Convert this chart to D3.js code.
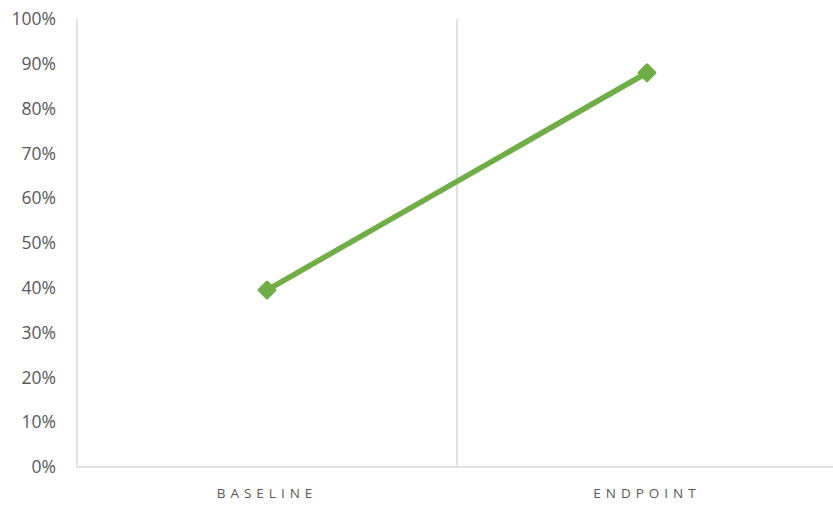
<!DOCTYPE html>
<html>
<head>
<meta charset="utf-8">
<script src="https://cdn.jsdelivr.net/npm/d3@7"></script>
<style>
  body { margin: 0; background: #fff; }
  text { font-family: "Open Sans", "Liberation Sans", sans-serif; fill: #595959; }
</style>
</head>
<body>
<div id="chart"></div>
<script>
// Line chart: Baseline vs Endpoint

var categories = ["BASELINE", "ENDPOINT"];
var values = [0.395, 0.88];
var yTicks = [0, 0.1, 0.2, 0.3, 0.4, 0.5, 0.6, 0.7, 0.8, 0.9, 1.0];

var svgWidth = 833;
var svgHeight = 505;

var margin = { top: 19, right: -4, bottom: 38, left: 77 };
var width = svgWidth - margin.left - margin.right;
var height = svgHeight - margin.top - margin.bottom;

var svg = d3.select("#chart")
  .append("svg")
  .attr("width", svgWidth)
  .attr("height", svgHeight);

var chartGroup = svg.append("g")
  .attr("transform", `translate(${margin.left}, ${margin.top})`);

var xScale = d3.scaleBand()
  .domain(categories)
  .range([0, width]);

var yScale = d3.scaleLinear()
  .domain([0, 1])
  .range([height, 0]);

// y axis labels
var leftAxis = d3.axisLeft(yScale)
  .tickValues(yTicks)
  .tickFormat(d3.format(".0%"))
  .tickSize(0)
  .tickPadding(21);

var yAxis = chartGroup.append("g").call(leftAxis);
yAxis.select(".domain").remove();
yAxis.selectAll("text")
  .style("font-size", "17.5px")
  .attr("fill", "#595959");

// axis lines
chartGroup.append("line")
  .attr("x1", 0).attr("x2", 0)
  .attr("y1", 0).attr("y2", height)
  .attr("stroke", "#d9d9d9").attr("stroke-width", 1.5);

chartGroup.append("line")
  .attr("x1", 0).attr("x2", width)
  .attr("y1", height).attr("y2", height)
  .attr("stroke", "#d9d9d9").attr("stroke-width", 1.5);

// category divider
chartGroup.append("line")
  .attr("x1", xScale(categories[1])).attr("x2", xScale(categories[1]))
  .attr("y1", 0).attr("y2", height)
  .attr("stroke", "#d9d9d9").attr("stroke-width", 1.5);

// category labels
chartGroup.selectAll(".cat-label")
  .data(categories)
  .enter()
  .append("text")
  .attr("class", "cat-label")
  .attr("x", d => xScale(d) + xScale.bandwidth() / 2)
  .attr("y", height + 31)
  .attr("text-anchor", "middle")
  .style("font-size", "13.5px")
  .style("letter-spacing", "5px")
  .text(d => d);

// the line
var data = categories.map((c, i) => ({ cat: c, value: values[i] }));

var line = d3.line()
  .x(d => xScale(d.cat) + xScale.bandwidth() / 2)
  .y(d => yScale(d.value));

chartGroup.append("path")
  .datum(data)
  .attr("d", line)
  .attr("fill", "none")
  .attr("stroke", "#70ad47")
  .attr("stroke-width", 5.5);

// diamond markers
chartGroup.selectAll(".marker")
  .data(data)
  .enter()
  .append("path")
  .attr("class", "marker")
  .attr("d", d3.symbol().type(d3.symbolDiamond2).size(160))
  .attr("transform", d => `translate(${xScale(d.cat) + xScale.bandwidth() / 2}, ${yScale(d.value)})`)
  .attr("fill", "#70ad47")
  .attr("stroke", "#70ad47")
  .attr("stroke-width", 3)
  .attr("stroke-linejoin", "round");
</script>
</body>
</html>
